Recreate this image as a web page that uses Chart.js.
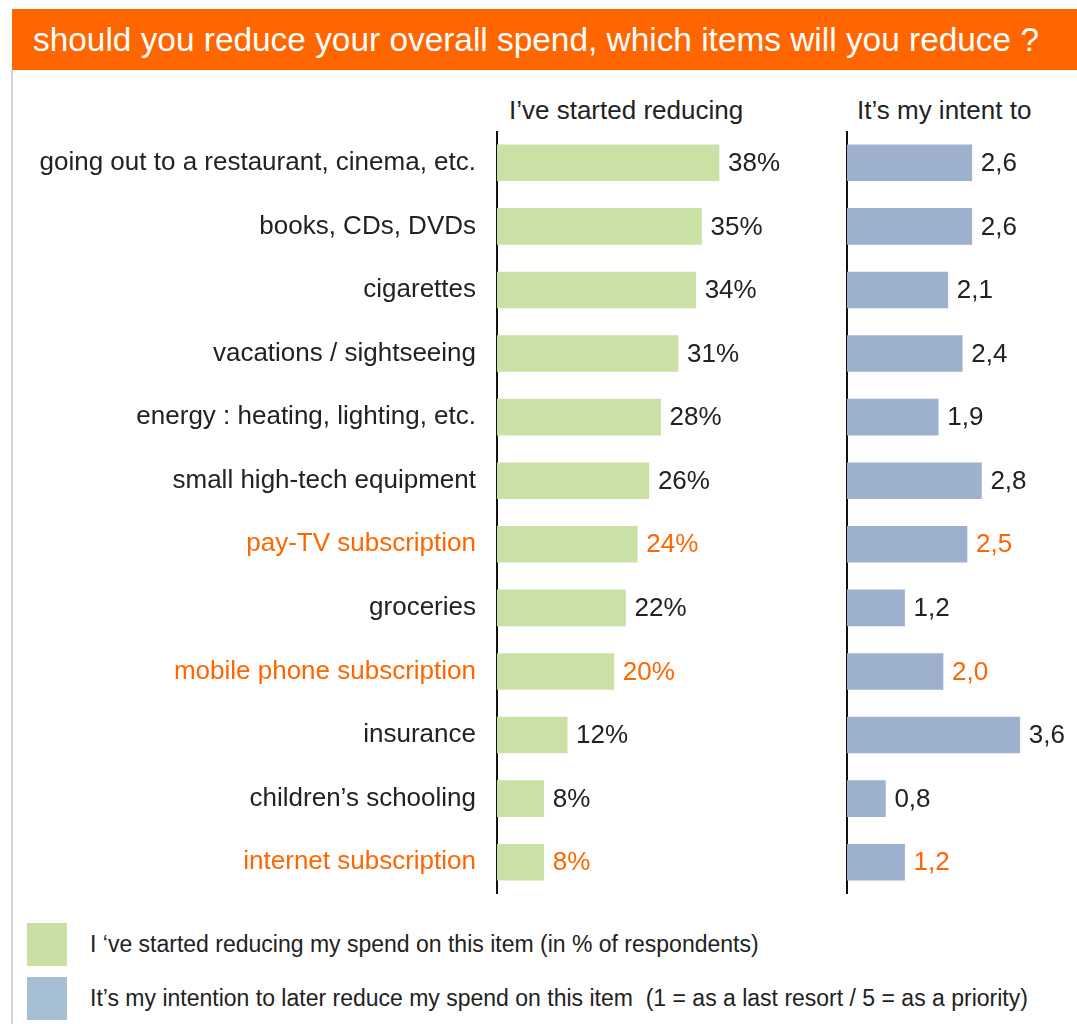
<!DOCTYPE html>
<html>
<head>
<meta charset="utf-8">
<script src="https://cdn.jsdelivr.net/npm/chart.js@4/dist/chart.umd.min.js"></script>
<style>
  html, body { margin: 0; padding: 0; background: #fff; }
  body { width: 1077px; height: 1024px; position: relative; overflow: hidden; font-family: 'Liberation Sans', Arial, sans-serif; color: #222; }
  .titlebar { position: absolute; left: 12px; top: 9px; width: 1065px; height: 61px; background: #ff6600; color: #fff; font-size: 33.4px; line-height: 61px; padding-left: 21px; box-sizing: border-box; white-space: nowrap; }
  .frame { position: absolute; left: 11px; top: 70px; width: 2px; height: 954px; background: #d4d4d4; }
  .colhead { position: absolute; top: 95px; font-size: 26px; line-height: 30px; white-space: nowrap; }
  .box { position: absolute; }
  .legend-row { position: absolute; left: 27px; display: flex; align-items: center; font-size: 23px; white-space: nowrap; }
  .swatch { width: 40px; height: 43px; margin-right: 23px; }
</style>
</head>
<body>
<div class="titlebar">should you reduce your overall spend, which items will you reduce ?</div>
<div class="frame"></div>
<div class="colhead" style="left:509px">I’ve started reducing</div>
<div class="colhead" style="left:857px">It’s my intent to</div>

<div class="box" style="left:0;top:131px;width:830px;height:763px"><canvas id="started"></canvas></div>
<div class="box" style="left:845px;top:131px;width:232px;height:763px"><canvas id="intent"></canvas></div>

<div class="legend-row" style="top:923px"><div class="swatch" style="background:#c9e0a4"></div>I ‘ve started reducing my spend on this item (in % of respondents)</div>
<div class="legend-row" style="top:977px"><div class="swatch" style="background:#a6bfd4"></div>It’s my intention to later reduce my spend on this item &nbsp;(1 = as a last resort / 5 = as a priority)</div>

<script>
const categories = [
  'going out to a restaurant, cinema, etc.',
  'books, CDs, DVDs',
  'cigarettes',
  'vacations / sightseeing',
  'energy : heating, lighting, etc.',
  'small high-tech equipment',
  'pay-TV subscription',
  'groceries',
  'mobile phone subscription',
  'insurance',
  'children’s schooling',
  'internet subscription'
]
const startedPct  = [38, 35, 34, 31, 28, 26, 24, 22, 20, 12, 8, 8]
const intentScore = [2.6, 2.6, 2.1, 2.4, 1.9, 2.8, 2.5, 1.2, 2.0, 3.6, 0.8, 1.2]
const highlighted = ['pay-TV subscription', 'mobile phone subscription', 'internet subscription']

const ORANGE = '#ff6600'
const TEXT = '#222'
const FONT = "'Liberation Sans', Arial, sans-serif"
const isHi = i => highlighted.includes(categories[i])

// value labels at the end of each bar
const valueLabels = fmt => ({
  id: 'valueLabels',
  afterDatasetsDraw(chart) {
    const { ctx } = chart
    const meta = chart.getDatasetMeta(0)
    ctx.save()
    ctx.textBaseline = 'middle'
    ctx.textAlign = 'left'
    meta.data.forEach((bar, i) => {
      ctx.font = `26px ${FONT}`
      ctx.fillStyle = isHi(i) ? ORANGE : TEXT
      ctx.fillText(fmt(chart.data.datasets[0].data[i]), bar.x + 9, bar.y + 1)
    })
    ctx.restore()
  }
})

// keep the plot area exactly the box height (no label padding top/bottom)
const fitY = w => scale => {
  scale.width = w
  scale.paddingTop = 0
  scale.paddingBottom = 0
}

const baseOptions = (xMax, yAxis) => ({
  indexAxis: 'y',
  responsive: true,
  maintainAspectRatio: false,
  animation: false,
  layout: { padding: 0 },
  plugins: { legend: { display: false }, tooltip: { enabled: false } },
  scales: {
    x: { display: false, min: 0, max: xMax },
    y: yAxis
  }
})

new Chart(document.getElementById('started'), {
  type: 'bar',
  data: {
    labels: categories,
    datasets: [{ data: startedPct, backgroundColor: '#c9e1a5', barThickness: 36 }]
  },
  options: baseOptions(57, {
    grid: { display: false },
    border: { display: true, color: '#111', width: 2 },
    ticks: {
      padding: 13,
      autoSkip: false,
      font: { size: 26, family: FONT },
      color: ctx => isHi(ctx.index) ? ORANGE : TEXT
    },
    afterFit: fitY(497)
  }),
  plugins: [valueLabels(v => v + '%')]
})

new Chart(document.getElementById('intent'), {
  type: 'bar',
  data: {
    labels: categories,
    datasets: [{ data: intentScore, backgroundColor: '#9db1cf', barThickness: 36 }]
  },
  options: baseOptions(230 / 48, {
    grid: { display: false },
    border: { display: true, color: '#111', width: 2 },
    ticks: { display: false },
    afterFit: fitY(2)
  }),
  plugins: [valueLabels(v => v.toFixed(1).replace('.', ','))]
})
</script>
</body>
</html>
